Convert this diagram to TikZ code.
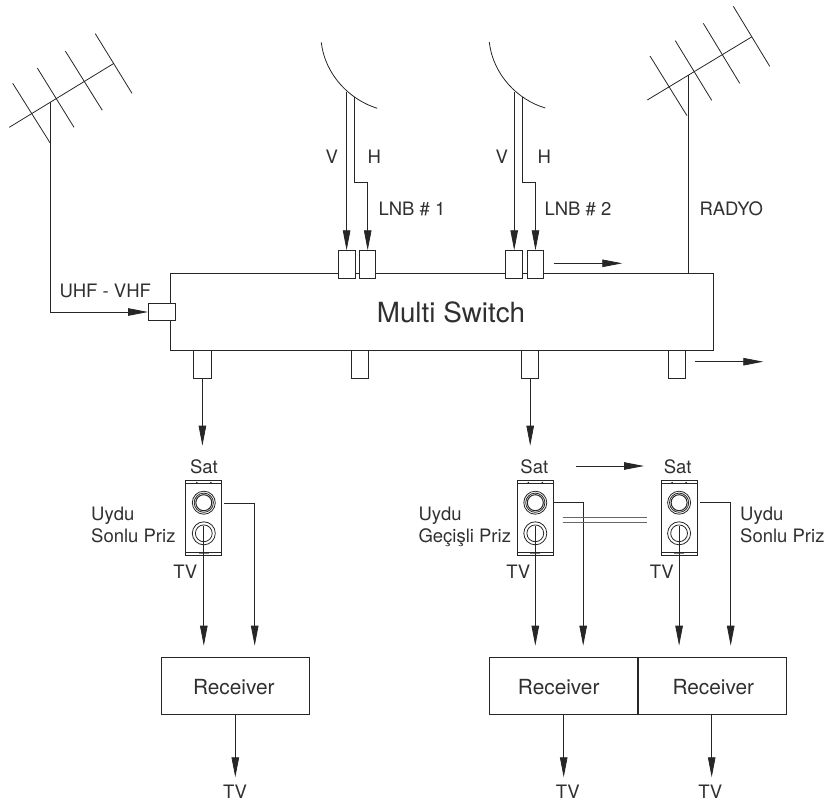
\documentclass[tikz,border=0pt]{standalone}
\usepackage{fontspec}
\setmainfont{TeX Gyre Heros}
\usetikzlibrary{arrows.meta}
\definecolor{ink}{HTML}{262626}
\definecolor{txt}{HTML}{303030}
\tikzset{
  ln/.style={draw=ink,line width=0.8pt},
  arr/.style={ln,-{Triangle[length=20pt,width=7.5pt,fill=ink]}},
  box/.style={draw=ink,line width=0.9pt,fill=white,inner sep=0pt,outer sep=0pt,minimum width=#1},
  lab/.style={text=txt,inner sep=0pt,font=\fontsize{18.5}{20}\selectfont,text height=13.4pt,text depth=0pt},
  rlab/.style={lab,font=\fontsize{20.8}{22}\selectfont,text height=15pt},
  rec/.style={box=148.5pt,minimum height=57pt,anchor=north west},
  socket/.pic={
    \node[draw=ink,line width=1.1pt,fill=white,inner sep=0pt,outer sep=0pt,minimum width=36pt,minimum height=74.6pt] (-plate) at (0,0) {};
    \draw[ink,line width=0.7pt] (-18,-34.6) -- (18,-34.6) (-18,34.6) -- (18,34.6);
    \draw[gray,line width=1.6pt] (-5,35.6) -- (5,35.6);
    \fill[ink] (-7,-35.4) circle (0.9pt) (7,-35.4) circle (0.9pt);
    \node[circle,draw=ink,line width=0.8pt,minimum size=23pt,inner sep=0pt,outer sep=0pt] (-sat) at (0,-15.3) {};
    \draw[ink,line width=0.8pt] (-sat.center) circle (9.6pt);
    \draw[ink,line width=1pt] (-sat.center) circle (8pt);
    \node[circle,draw=ink,line width=0.8pt,minimum size=23pt,inner sep=0pt,outer sep=0pt] (-tv) at (0,15.3) {};
    \draw[ink,line width=0.8pt] (-tv.center) circle (8.4pt);
  }
}
\begin{document}
\begin{tikzpicture}[x=1pt,y=-1pt]
\useasboundingbox (0,0) rectangle (825,807);
% Left antenna
\coordinate (la0) at (9.3,127.3); \coordinate (la1) at (114,63.3);
\draw[ln] (la0) -- (la1);
\draw[ln] (12.7,83.3) -- (50,142.7) (37.3,68) -- (74,127.3) (65.3,51) -- (102.3,110.3) (95.3,33.7) -- (132,93.3);
% Right antenna
\coordinate (ra0) at (647.3,100); \coordinate (ra1) at (752,36.7);
\draw[ln] (ra0) -- (ra1);
\draw[ln] (650,56) -- (687,115.7) (675.3,40.7) -- (711.7,100.3) (703.3,23.3) -- (739.7,83.3) (733.3,6.3) -- (769.7,66.3);
% Dishes
\draw[ln] (321.3,42.3) .. controls (325,75) and (350,100) .. (377.3,108.3);
\draw[ln] (489.3,42) .. controls (493,75) and (518,100) .. (545.3,108);
% Multi switch
\node[box=542.7pt,minimum height=77.3pt,anchor=north west] (ms) at (170.3,273) {};
\node[lab,font=\fontsize{27.8}{30}\selectfont,text height=20pt] (mst) at (451,312.7) {Multi Switch};
% Top connectors
\node[box=17pt,minimum height=28pt] (c1) at (346.6,264.3) {};
\node[box=16pt,minimum height=28pt] (c2) at (367.7,264.3) {};
\node[box=17pt,minimum height=28pt] (c3) at (514.2,264.3) {};
\node[box=16pt,minimum height=28pt] (c4) at (535.5,264.3) {};
\node[box=27.7pt,minimum height=17.4pt] (uhf) at (161.9,312) {};
% Bottom connectors
\node[box=17.3pt,minimum height=27.7pt,anchor=north] (b1) at (202.4,350.3) {};
\node[box=17pt,minimum height=27.7pt,anchor=north] (b2) at (360.2,350.3) {};
\node[box=17pt,minimum height=27.7pt,anchor=north] (b3) at (530.2,350.3) {};
\node[box=17.4pt,minimum height=27.7pt,anchor=north] (b4) at (677,350.3) {};
% Antenna feeds
\coordinate (lm) at (50.3,101.7); \coordinate (lc) at (50.3,312);
\draw[arr] (lm) -- (lc) -- (uhf.west);
\coordinate (rm) at (688.3,75);
\draw[ln] (rm) -- (rm |- ms.north);
% LNB feeds
\coordinate (v1) at (346.6,91.7); \coordinate (h1) at (354.3,97.3);
\coordinate (v2) at (514.2,91.7); \coordinate (h2) at (522.3,97.3);
\draw[arr] (v1) -- (c1.north);
\draw[arr] (h1) -- (354.3,182.3) -- (c2.north |- 0,182.3) -- (c2.north);
\draw[arr] (v2) -- (c3.north);
\draw[arr] (h2) -- (522.3,182.3) -- (c4.north |- 0,182.3) -- (c4.north);
% Free arrows
\coordinate (a1s) at (553.7,263.3); \coordinate (a1e) at (622.3,263.3);
\draw[arr] (a1s) -- (a1e);
\coordinate (a2s) at (695,361.7); \coordinate (a2e) at (763.3,361.7);
\draw[arr] (a2s) -- (a2e);
\coordinate (a3s) at (575.7,466); \coordinate (a3e) at (644,466);
\draw[arr] (a3s) -- (a3e);
% Outlet drops
\coordinate (d1) at (202.4,445.7); \coordinate (d3) at (530.2,445.7);
\draw[arr] (b1.south) -- (d1);
\draw[arr] (b3.south) -- (d3);
% Sockets
\pic (s1) at (203.8,518) {socket};
\pic (s2) at (535.3,518) {socket};
\pic (s3) at (679.1,518) {socket};
% Receivers
\node[rec] (r1) at (161.3,657) {};
\node[rec] (r2) at (489.3,657) {};
\node[rec,minimum width=148.3pt] (r3) at (638,657) {};
\draw[ink,line width=1.5pt] (r3.north west) -- (r3.south west);
\node[rlab] (r1t) at (233.8,686.7) {Receiver};
\node[rlab] (r2t) at (558.7,686.7) {Receiver};
\node[rlab] (r3t) at (713.3,686.7) {Receiver};
% Socket wires
\coordinate (t1) at (203.8,645.7); \coordinate (t1b) at (254.7,645.7);
\coordinate (t2) at (535.3,645.7); \coordinate (t2b) at (583.2,645.7);
\coordinate (t3) at (679.1,645.7); \coordinate (t3b) at (730.7,645.7);
\draw[arr] ([yshift=7pt]s1-tv.center) -- (t1);
\draw[arr] ([yshift=7pt]s2-tv.center) -- (t2);
\draw[arr] ([yshift=7pt]s3-tv.center) -- (t3);
\coordinate (w1) at (224,503.2); \coordinate (w2) at (553.3,502.7); \coordinate (w3) at (700,502.3);
\draw[arr] (w1) -- (t1b |- w1) -- (t1b);
\draw[arr] (w2) -- (t2b |- w2) -- (t2b);
\draw[arr] (w3) -- (t3b |- w3) -- (t3b);
% Double line between outlets
\coordinate (dl1) at (562.7,517.7); \coordinate (dl2) at (646.7,517.7);
\coordinate (dl3) at (562.7,522.7); \coordinate (dl4) at (646.7,522.7);
\draw[draw=ink!70,line width=0.8pt] (dl1) -- (dl2) (dl3) -- (dl4);
% Receiver outputs
\coordinate (o1) at (235.3,777.3); \coordinate (o2) at (563.7,777.3); \coordinate (o3) at (711.7,777.3);
\draw[arr] (r1.south -| o1) -- (o1);
\draw[arr] (r2.south -| o2) -- (o2);
\draw[arr] (r3.south -| o3) -- (o3);
% Labels
\node[lab] (lv1) at (331.7,156.7) {V};
\node[lab] (lh1) at (374.3,156.7) {H};
\node[lab,anchor=west] (ll1) at (378.3,208.3) {LNB \# 1};
\node[lab] (lv2) at (501.7,156.7) {V};
\node[lab] (lh2) at (544.3,156.7) {H};
\node[lab,anchor=west] (ll2) at (544.3,208.3) {LNB \# 2};
\node[lab,anchor=west] (lr) at (699.3,208.3) {RADYO};
\node[lab,anchor=west] (lu) at (59.3,291) {UHF - VHF};
\node[lab] (ls1) at (204,466.7) {Sat};
\node[lab] (ls2) at (534.3,466.7) {Sat};
\node[lab] (ls3) at (677.7,466.7) {Sat};
\node[lab,anchor=west] (u1a) at (91,514) {Uydu};
\node[lab,anchor=west] (u1b) at (91,536) {Sonlu Priz};
\node[lab,anchor=west] (u2a) at (418.3,514) {Uydu};
\node[lab,anchor=west] (u2b) at (418.3,536) {Geçişli Priz};
\node[lab,anchor=west] (u3a) at (740,514) {Uydu};
\node[lab,anchor=west] (u3b) at (740,536) {Sonlu Priz};
\node[lab] (tv1) at (185.3,571.7) {TV};
\node[lab] (tv2) at (518.3,571.7) {TV};
\node[lab] (tv3) at (661.7,571.7) {TV};
\node[lab] (tv4) at (235,792) {TV};
\node[lab] (tv5) at (567.7,792) {TV};
\node[lab] (tv6) at (710.3,792) {TV};
\end{tikzpicture}
\end{document}
